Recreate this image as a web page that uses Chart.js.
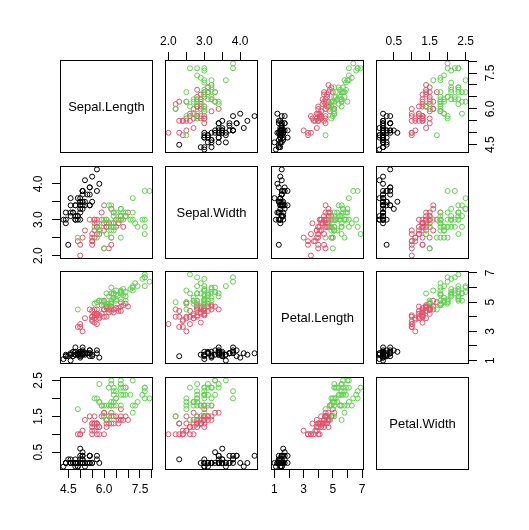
<!DOCTYPE html>
<html>
<head>
<meta charset="utf-8">
<script src="https://cdn.jsdelivr.net/npm/chart.js@4.4.1/dist/chart.umd.min.js"></script>
<style>
html,body{margin:0;padding:0;background:#fff;}
#wrap{position:relative;width:529px;height:530px;overflow:hidden;background:#fff;}
#wrap canvas{position:absolute;}
</style>
</head>
<body>
<div id="wrap"></div>
<script>
// ---------------- data (iris) ----------------
const varNames = ['Sepal.Length', 'Sepal.Width', 'Petal.Length', 'Petal.Width'];

const sepalLength = [
5.1,4.9,4.7,4.6,5.0,5.4,4.6,5.0,4.4,4.9,5.4,4.8,4.8,4.3,5.8,5.7,5.4,5.1,5.7,5.1,5.4,5.1,4.6,5.1,4.8,
5.0,5.0,5.2,5.2,4.7,4.8,5.4,5.2,5.5,4.9,5.0,5.5,4.9,4.4,5.1,5.0,4.5,4.4,5.0,5.1,4.8,5.1,4.6,5.3,5.0,
7.0,6.4,6.9,5.5,6.5,5.7,6.3,4.9,6.6,5.2,5.0,5.9,6.0,6.1,5.6,6.7,5.6,5.8,6.2,5.6,5.9,6.1,6.3,6.1,6.4,
6.6,6.8,6.7,6.0,5.7,5.5,5.5,5.8,6.0,5.4,6.0,6.7,6.3,5.6,5.5,5.5,6.1,5.8,5.0,5.6,5.7,5.7,6.2,5.1,5.7,
6.3,5.8,7.1,6.3,6.5,7.6,4.9,7.3,6.7,7.2,6.5,6.4,6.8,5.7,5.8,6.4,6.5,7.7,7.7,6.0,6.9,5.6,7.7,6.3,6.7,
7.2,6.2,6.1,6.4,7.2,7.4,7.9,6.4,6.3,6.1,7.7,6.3,6.4,6.0,6.9,6.7,6.9,5.8,6.8,6.7,6.7,6.3,6.5,6.2,5.9];

const sepalWidth = [
3.5,3.0,3.2,3.1,3.6,3.9,3.4,3.4,2.9,3.1,3.7,3.4,3.0,3.0,4.0,4.4,3.9,3.5,3.8,3.8,3.4,3.7,3.6,3.3,3.4,
3.0,3.4,3.5,3.4,3.2,3.1,3.4,4.1,4.2,3.1,3.2,3.5,3.6,3.0,3.4,3.5,2.3,3.2,3.5,3.8,3.0,3.8,3.2,3.7,3.3,
3.2,3.2,3.1,2.3,2.8,2.8,3.3,2.4,2.9,2.7,2.0,3.0,2.2,2.9,2.9,3.1,3.0,2.7,2.2,2.5,3.2,2.8,2.5,2.8,2.9,
3.0,2.8,3.0,2.9,2.6,2.4,2.4,2.7,2.7,3.0,3.4,3.1,2.3,3.0,2.5,2.6,3.0,2.6,2.3,2.7,3.0,2.9,2.9,2.5,2.8,
3.3,2.7,3.0,2.9,3.0,3.0,2.5,2.9,2.5,3.6,3.2,2.7,3.0,2.5,2.8,3.2,3.0,3.8,2.6,2.2,3.2,2.8,2.8,2.7,3.3,
3.2,2.8,3.0,2.8,3.0,2.8,3.8,2.8,2.8,2.6,3.0,3.4,3.1,3.0,3.1,3.1,3.1,2.7,3.2,3.3,3.0,2.5,3.0,3.4,3.0];

const petalLength = [
1.4,1.4,1.3,1.5,1.4,1.7,1.4,1.5,1.4,1.5,1.5,1.6,1.4,1.1,1.2,1.5,1.3,1.4,1.7,1.5,1.7,1.5,1.0,1.7,1.9,
1.6,1.6,1.5,1.4,1.6,1.6,1.5,1.5,1.4,1.5,1.2,1.3,1.4,1.3,1.5,1.3,1.3,1.3,1.6,1.9,1.4,1.6,1.4,1.5,1.4,
4.7,4.5,4.9,4.0,4.6,4.5,4.7,3.3,4.6,3.9,3.5,4.2,4.0,4.7,3.6,4.4,4.5,4.1,4.5,3.9,4.8,4.0,4.9,4.7,4.3,
4.4,4.8,5.0,4.5,3.5,3.8,3.7,3.9,5.1,4.5,4.5,4.7,4.4,4.1,4.0,4.4,4.6,4.0,3.3,4.2,4.2,4.2,4.3,3.0,4.1,
6.0,5.1,5.9,5.6,5.8,6.6,4.5,6.3,5.8,6.1,5.1,5.3,5.5,5.0,5.1,5.3,5.5,6.7,6.9,5.0,5.7,4.9,6.7,4.9,5.7,
6.0,4.8,4.9,5.6,5.8,6.1,6.4,5.6,5.1,5.6,6.1,5.6,5.5,4.8,5.4,5.6,5.1,5.1,5.9,5.7,5.2,5.0,5.2,5.4,5.1];

const petalWidth = [
0.2,0.2,0.2,0.2,0.2,0.4,0.3,0.2,0.2,0.1,0.2,0.2,0.1,0.1,0.2,0.4,0.4,0.3,0.3,0.3,0.2,0.4,0.2,0.5,0.2,
0.2,0.4,0.2,0.2,0.2,0.2,0.4,0.1,0.2,0.2,0.2,0.2,0.1,0.2,0.2,0.3,0.3,0.2,0.6,0.4,0.3,0.2,0.2,0.2,0.2,
1.4,1.5,1.5,1.3,1.5,1.3,1.6,1.0,1.3,1.4,1.0,1.5,1.0,1.4,1.3,1.4,1.5,1.0,1.5,1.1,1.8,1.3,1.5,1.2,1.3,
1.4,1.4,1.7,1.5,1.0,1.1,1.0,1.2,1.6,1.5,1.6,1.5,1.3,1.3,1.3,1.2,1.4,1.2,1.0,1.3,1.2,1.3,1.3,1.1,1.3,
2.5,1.9,2.1,1.8,2.2,2.1,1.7,1.8,1.8,2.5,2.0,1.9,2.1,2.0,2.4,2.3,1.8,2.2,2.3,1.5,2.3,2.0,2.0,1.8,2.1,
1.8,1.8,1.8,2.1,1.6,1.9,2.0,2.2,1.5,1.4,2.3,2.4,1.8,1.8,2.1,2.4,2.3,1.9,2.3,2.5,2.3,1.9,2.0,2.3,1.8];

// species code per row: 0 = setosa, 1 = versicolor, 2 = virginica
const species = [
0,0,0,0,0,0,0,0,0,0,0,0,0,0,0,0,0,0,0,0,0,0,0,0,0,
0,0,0,0,0,0,0,0,0,0,0,0,0,0,0,0,0,0,0,0,0,0,0,0,0,
1,1,1,1,1,1,1,1,1,1,1,1,1,1,1,1,1,1,1,1,1,1,1,1,1,
1,1,1,1,1,1,1,1,1,1,1,1,1,1,1,1,1,1,1,1,1,1,1,1,1,
2,2,2,2,2,2,2,2,2,2,2,2,2,2,2,2,2,2,2,2,2,2,2,2,2,
2,2,2,2,2,2,2,2,2,2,2,2,2,2,2,2,2,2,2,2,2,2,2,2,2];

const speciesColors = ['#000000', '#DF536B', '#61D04F'];

// tick values and tick labels (R skips overlapping labels)
const sepalLengthTicks = [4.5, 5.0, 5.5, 6.0, 6.5, 7.0, 7.5, 8.0];
const sepalLengthTickLabels = ['4.5', '', '', '6.0', '', '', '7.5', ''];
const sepalWidthTicks = [2.0, 2.5, 3.0, 3.5, 4.0];
const sepalWidthTickLabels = ['2.0', '', '3.0', '', '4.0'];
const petalLengthTicks = [1, 2, 3, 4, 5, 6, 7];
const petalLengthTickLabels = ['1', '', '3', '', '5', '', '7'];
const petalWidthTicks = [0.5, 1.0, 1.5, 2.0, 2.5];
const petalWidthTickLabels = ['0.5', '', '1.5', '', '2.5'];

// ---------------- drawing ----------------
const FONT = '"Liberation Sans", Arial, Helvetica, sans-serif';
Chart.defaults.font.family = FONT;
Chart.defaults.font.size = 12;
Chart.defaults.color = '#000';

const vars = [sepalLength, sepalWidth, petalLength, petalWidth];
const tickVals = [sepalLengthTicks, sepalWidthTicks, petalLengthTicks, petalWidthTicks];
const tickLabs = [sepalLengthTickLabels, sepalWidthTickLabels, petalLengthTickLabels, petalWidthTickLabels];

const M = 45;                 // margin around each panel inside its canvas
const BOX = 93;               // panel plot size
const colLeft = [60, 165, 271, 376];
const rowTop = [60, 166, 271, 377];

const mctx = document.createElement('canvas').getContext('2d');
mctx.font = '12px ' + FONT;
function textW(t) { return t ? mctx.measureText(t).width : 0; }

function rangeOf(arr) {
  const lo = Math.min(...arr), hi = Math.max(...arr), d = (hi - lo) * 0.04;
  return [lo - d, hi + d];
}

function axisCfg(k, pos, show, isX) {
  const [mn, mx] = rangeOf(vars[k]);
  const labels = tickLabs[k];
  const widest = Math.max(...labels.map(textW));
  const cfg = {
    type: 'linear', position: pos, display: show, min: mn, max: mx,
    afterBuildTicks: s => { s.ticks = tickVals[k].map(v => ({ value: v })); },
    afterFit: s => { if (!show) return; if (isX) s.height = M; else s.width = M; },
    grid: { drawOnChartArea: false, drawTicks: true, tickLength: 8, color: '#000', lineWidth: 1 },
    border: { display: false },
    ticks: { autoSkip: false, color: '#000', font: { family: FONT, size: 12 },
             callback: (v, i) => labels[i] }
  };
  if (isX) {
    cfg.ticks.padding = (pos === 'top') ? 3 : 4.8;
    cfg.ticks.minRotation = 0; cfg.ticks.maxRotation = 0;
  } else {
    cfg.ticks.padding = 21.5 - 8 - widest / 2;
    cfg.ticks.minRotation = 90; cfg.ticks.maxRotation = 90;
    cfg.ticks.crossAlign = 'center';
  }
  return cfg;
}

const boxPlugin = {
  id: 'panelBox',
  afterDraw(chart, args, opts) {
    const { ctx, chartArea: a } = chart;
    ctx.save();
    ctx.strokeStyle = '#000';
    ctx.lineWidth = 1;
    ctx.strokeRect(a.left + 0.5, a.top + 0.5, a.width - 1, a.height - 1);
    if (opts.label) {
      ctx.font = '13px ' + FONT;
      ctx.fillStyle = '#000';
      ctx.textAlign = 'center';
      ctx.textBaseline = 'middle';
      ctx.fillText(opts.label, (a.left + a.right) / 2, (a.top + a.bottom) / 2 + 0.5);
    }
    ctx.restore();
  }
};

const wrap = document.getElementById('wrap');

for (let i = 0; i < 4; i++) {
  for (let j = 0; j < 4; j++) {
    const cv = document.createElement('canvas');
    const size = BOX + 2 * M;
    cv.width = size; cv.height = size;
    cv.style.width = size + 'px'; cv.style.height = size + 'px';
    cv.style.left = (colLeft[j] - M) + 'px';
    cv.style.top = (rowTop[i] - M) + 'px';
    wrap.appendChild(cv);

    const hasTop = (i === 0 && j % 2 === 1);
    const hasBottom = (i === 3 && j % 2 === 0);
    const hasLeft = (j === 0 && i % 2 === 1);
    const hasRight = (j === 3 && i % 2 === 0);

    let datasets = [];
    if (i !== j) {
      const xs = vars[j], ys = vars[i];
      datasets = [{
        data: xs.map((x, n) => ({ x: x, y: ys[n] })),
        pointRadius: 2.5,
        pointBorderWidth: 1,
        pointBackgroundColor: 'rgba(0,0,0,0)',
        pointBorderColor: species.map(s => speciesColors[s]),
        showLine: false,
        clip: false
      }];
    }

    new Chart(cv, {
      type: 'scatter',
      data: { datasets },
      options: {
        responsive: false,
        maintainAspectRatio: false,
        animation: false,
        events: [],
        layout: { padding: {
          top: hasTop ? 0 : M, bottom: hasBottom ? 0 : M,
          left: hasLeft ? 0 : M, right: hasRight ? 0 : M } },
        scales: {
          x: axisCfg(j, hasTop ? 'top' : 'bottom', hasTop || hasBottom, true),
          y: axisCfg(i, hasLeft ? 'left' : 'right', hasLeft || hasRight, false)
        },
        plugins: {
          legend: { display: false },
          tooltip: { enabled: false },
          title: { display: false },
          panelBox: { label: i === j ? varNames[i] : '' }
        }
      },
      plugins: [boxPlugin]
    });
  }
}
</script>
</body>
</html>
